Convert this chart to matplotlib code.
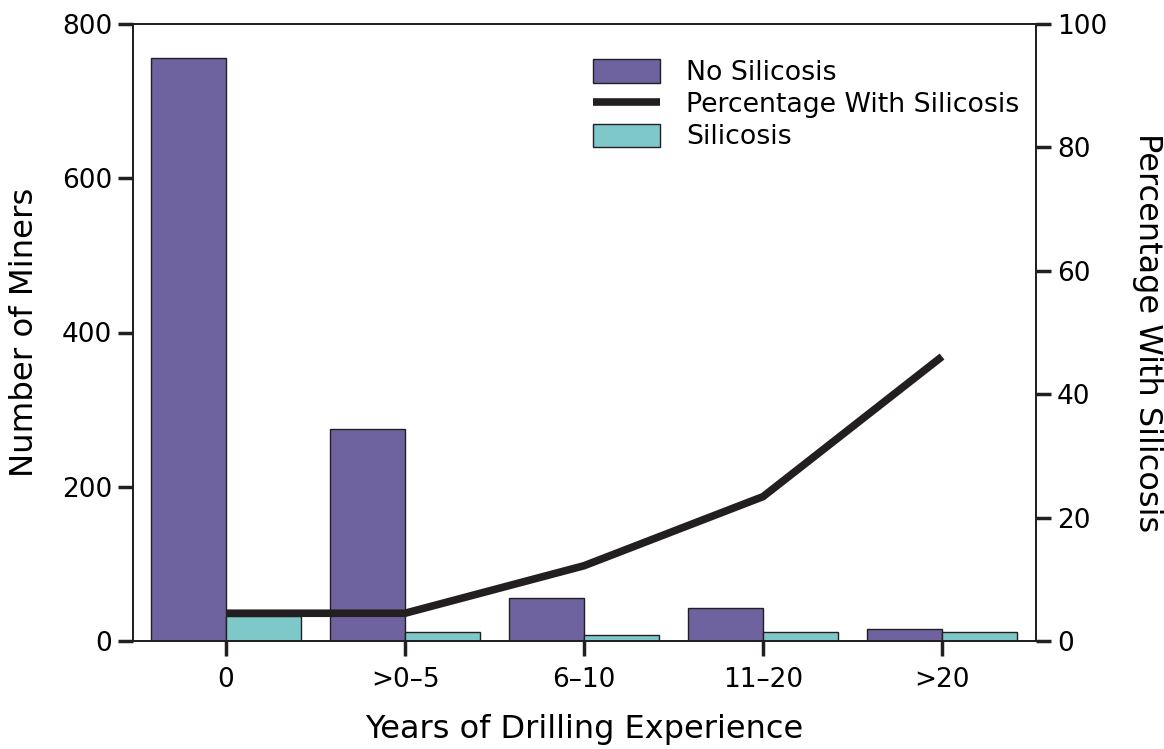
#!/usr/bin/env python3
"""
Miners with / without silicosis by years of drilling experience
"""
import numpy as np
import matplotlib
matplotlib.use('Agg')
import matplotlib.pyplot as plt

# Data
groups = ['0', '>0\u20135', '6\u201310', '11\u201320', '>20']
no_silicosis = [756, 275, 56, 43, 15]
silicosis = [32, 12, 8, 12, 12]
pct_silicosis = [4.5, 4.5, 12.2, 23.4, 46.1]

purple = '#6e639e'
teal = '#7fc8c9'
dark = '#231f20'

plt.rcParams['font.family'] = ['DejaVu Sans']

fig = plt.figure(figsize=(11.64, 7.49), dpi=100)
ax = fig.add_axes([133/1164, 1 - 641/749, (1036-133)/1164, (641-24)/749])
ax2 = ax.twinx()

x = np.arange(len(groups))
w = 0.42
b1 = ax.bar(x - w/2, no_silicosis, w, color=purple, edgecolor=dark, linewidth=1,
            label='No Silicosis')
b2 = ax.bar(x + w/2, silicosis, w, color=teal, edgecolor=dark, linewidth=1,
            label='Silicosis')
ln, = ax2.plot(x, pct_silicosis, color=dark, linewidth=5.5, solid_capstyle='butt',
               label='Percentage With Silicosis')

# Axis settings
ax.set_xlim(-0.52, 4.525)
ax.set_ylim(0, 800)
ax2.set_ylim(0, 100)
ax.set_xticks(x)
ax.set_xticklabels(groups)
ax.set_yticks([0, 200, 400, 600, 800])
ax2.set_yticks([0, 20, 40, 60, 80, 100])

for a in (ax, ax2):
    for s in a.spines.values():
        s.set_color(dark)
        s.set_linewidth(1.3)
    a.tick_params(length=11, width=2.5, color=dark, labelsize=19, pad=4)
ax.tick_params(axis='x', pad=8)

ax.set_xlabel('Years of Drilling Experience', fontsize=23, labelpad=15)
ax.set_ylabel('Number of Miners', fontsize=23.3, labelpad=16)
ax2.set_ylabel('Percentage With Silicosis', fontsize=23, rotation=270,
               labelpad=40)

ax2.legend([b1, ln, b2], ['No Silicosis', 'Percentage With Silicosis', 'Silicosis'],
           loc='upper left', bbox_to_anchor=(0.497, 0.96), frameon=False,
           fontsize=19.3, handlelength=2.5, handleheight=0.95,
           handletextpad=1.0, labelspacing=0.2, borderaxespad=0)

plt.savefig('out.png', dpi=100)
plt.close()
